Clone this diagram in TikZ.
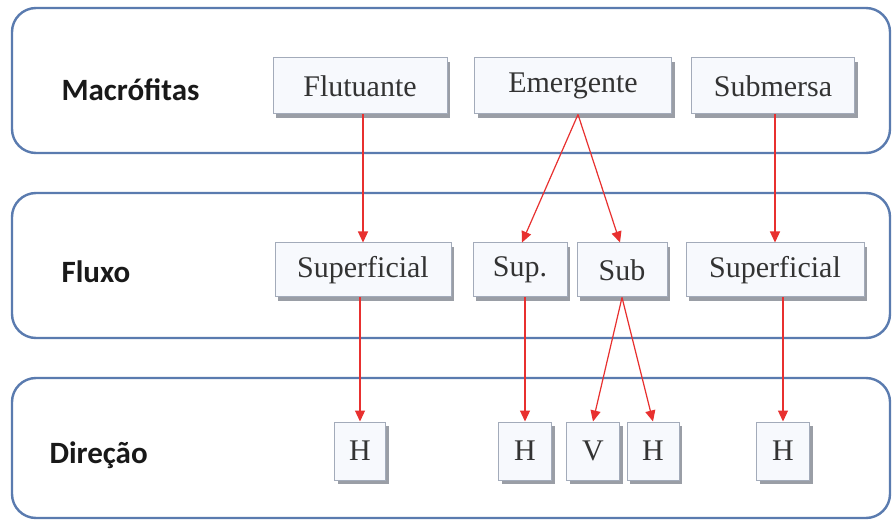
\documentclass[tikz,border=0pt]{standalone}
\usepackage{fontspec}
\setmainfont{Liberation Serif}
\newfontfamily\labelfont{Carlito}
\usetikzlibrary{arrows.meta,shadows}
\definecolor{panelblue}{HTML}{5A7BAF}
\definecolor{boxfill}{HTML}{F7F9FD}
\definecolor{boxedge}{HTML}{A3ABBA}
\definecolor{shadowgray}{HTML}{9A9EA6}
\definecolor{arrowred}{HTML}{E8302F}
\tikzset{
  panel/.style={draw=panelblue, line width=2.4pt, rounded corners=24pt, fill=white},
  rowlabel/.style={anchor=west, font=\labelfont\bfseries\fontsize{31}{33}\selectfont, text=black!90},
  itembox/.style={draw=boxedge, line width=1pt, fill=boxfill, inner sep=0pt,
    font=\fontsize{30}{32}\selectfont, text=black!80,
    drop shadow={shadow xshift=3pt, shadow yshift=-4pt, fill=shadowgray, opacity=1}},
  link/.style={draw=arrowred, line width=1.2pt, -{Triangle[length=11pt,width=10pt]}}
}
\begin{document}
\begin{tikzpicture}[x=1pt,y=-1pt]
\useasboundingbox (0,0) rectangle (894,521);
\fill[white] (0,0) rectangle (894,521);
% panels
\draw[panel] (12,8) rectangle (890,153);
\draw[panel] (12,193) rectangle (890,338);
\draw[panel] (12,378) rectangle (890,518);
% row labels
\node[rowlabel] (lmac) at (58,90) {Macrófitas};
\node[rowlabel] (lflu) at (58,272) {Fluxo};
\node[rowlabel] (ldir) at (46,455) {Direção};
% row 1
\node[itembox, minimum width=174pt, minimum height=56pt] (flu) at (360,86) {Flutuante};
\node[itembox, minimum width=197pt, minimum height=56pt] (eme) at (573,86) {Emergente};
\node[itembox, minimum width=163pt, minimum height=56pt] (sbm) at (773,86) {Submersa};
% row 2
\node[itembox, minimum width=176pt, minimum height=54pt] (sup1) at (363,270) {Superficial};
\node[itembox, minimum width=94pt, minimum height=54pt] (supp) at (520,270) {Sup.};
\node[itembox, minimum width=90pt, minimum height=54pt] (sub) at (622,270) {Sub};
\node[itembox, minimum width=178pt, minimum height=54pt] (sup2) at (775,270) {Superficial};
% row 3
\node[itembox, minimum width=51pt, minimum height=58pt] (h1) at (360,451) {H};
\node[itembox, minimum width=53pt, minimum height=58pt] (h2) at (525,451) {H};
\node[itembox, minimum width=53pt, minimum height=58pt] (v3) at (593,451) {V};
\node[itembox, minimum width=52pt, minimum height=58pt] (h4) at (653,451) {H};
\node[itembox, minimum width=53pt, minimum height=58pt] (h5) at (783,451) {H};
% connectors
\coordinate (emeb) at ([xshift=5pt]eme.south);
\coordinate (subb) at (sub.south);
\draw[link] (flu.south -| sup1.north) -- (sup1.north);
\draw[link] (emeb) -- ([xshift=2pt]supp.north);
\draw[link] (emeb) -- ([xshift=-2pt]sub.north);
\draw[link] (sbm.south -| sup2.north) -- (sup2.north);
\draw[link] (sup1.south -| h1.north) -- (h1.north);
\draw[link] (supp.south -| h2.north) -- (h2.north);
\draw[link] (subb) -- (v3.north);
\draw[link] (subb) -- (h4.north);
\draw[link] (sup2.south -| h5.north) -- (h5.north);
\end{tikzpicture}
\end{document}
